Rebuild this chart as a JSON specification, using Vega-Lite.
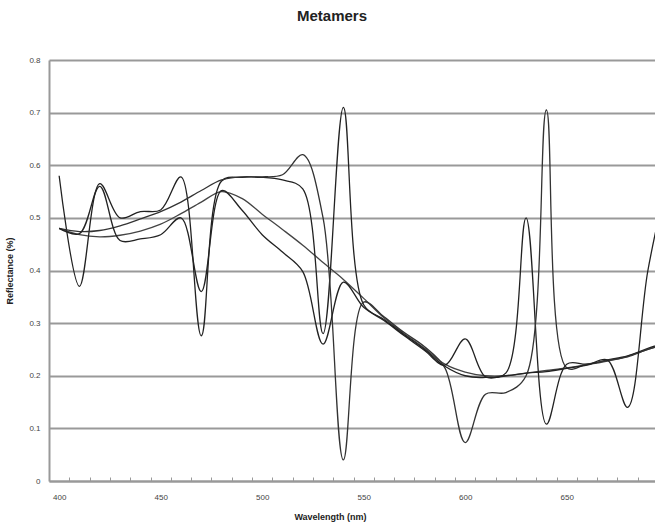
{
  "$schema": "https://vega.github.io/schema/vega-lite/v6.json",
  "width": 606,
  "height": 421,
  "autosize": {"type": "none"},
  "padding": {"left": 49, "top": 60, "right": 0, "bottom": 44},
  "background": "white",
  "title": {
    "text": "Metamers",
    "font": "Liberation Sans",
    "fontSize": 15,
    "fontWeight": "bold",
    "color": "#222",
    "anchor": "middle",
    "dx": -20,
    "offset": 32
  },
  "config": {"view": {"stroke": null}},
  "data": {
    "values": [
      {"wl": 400, "s": "ref", "r": 0.48}, {"wl": 410, "s": "ref", "r": 0.468}, {"wl": 420, "s": "ref", "r": 0.464},
      {"wl": 430, "s": "ref", "r": 0.467}, {"wl": 440, "s": "ref", "r": 0.475}, {"wl": 450, "s": "ref", "r": 0.488},
      {"wl": 460, "s": "ref", "r": 0.508}, {"wl": 470, "s": "ref", "r": 0.53}, {"wl": 480, "s": "ref", "r": 0.55},
      {"wl": 490, "s": "ref", "r": 0.537}, {"wl": 500, "s": "ref", "r": 0.507}, {"wl": 510, "s": "ref", "r": 0.478},
      {"wl": 520, "s": "ref", "r": 0.448}, {"wl": 530, "s": "ref", "r": 0.415}, {"wl": 540, "s": "ref", "r": 0.383},
      {"wl": 550, "s": "ref", "r": 0.347}, {"wl": 560, "s": "ref", "r": 0.31}, {"wl": 570, "s": "ref", "r": 0.28},
      {"wl": 580, "s": "ref", "r": 0.252}, {"wl": 590, "s": "ref", "r": 0.222}, {"wl": 600, "s": "ref", "r": 0.207},
      {"wl": 610, "s": "ref", "r": 0.2}, {"wl": 620, "s": "ref", "r": 0.2}, {"wl": 630, "s": "ref", "r": 0.205},
      {"wl": 640, "s": "ref", "r": 0.21}, {"wl": 650, "s": "ref", "r": 0.215}, {"wl": 660, "s": "ref", "r": 0.221},
      {"wl": 670, "s": "ref", "r": 0.228}, {"wl": 680, "s": "ref", "r": 0.237}, {"wl": 690, "s": "ref", "r": 0.25},
      {"wl": 700, "s": "ref", "r": 0.262},

      {"wl": 400, "s": "m1", "r": 0.58}, {"wl": 410, "s": "m1", "r": 0.37}, {"wl": 420, "s": "m1", "r": 0.565},
      {"wl": 430, "s": "m1", "r": 0.5}, {"wl": 440, "s": "m1", "r": 0.512}, {"wl": 450, "s": "m1", "r": 0.515},
      {"wl": 460, "s": "m1", "r": 0.578}, {"wl": 470, "s": "m1", "r": 0.276}, {"wl": 480, "s": "m1", "r": 0.57},
      {"wl": 490, "s": "m1", "r": 0.577}, {"wl": 500, "s": "m1", "r": 0.577}, {"wl": 510, "s": "m1", "r": 0.572},
      {"wl": 520, "s": "m1", "r": 0.555}, {"wl": 530, "s": "m1", "r": 0.28}, {"wl": 540, "s": "m1", "r": 0.71},
      {"wl": 550, "s": "m1", "r": 0.335}, {"wl": 560, "s": "m1", "r": 0.307}, {"wl": 570, "s": "m1", "r": 0.278},
      {"wl": 580, "s": "m1", "r": 0.25}, {"wl": 590, "s": "m1", "r": 0.218}, {"wl": 600, "s": "m1", "r": 0.2},
      {"wl": 610, "s": "m1", "r": 0.197}, {"wl": 620, "s": "m1", "r": 0.205}, {"wl": 630, "s": "m1", "r": 0.5},
      {"wl": 640, "s": "m1", "r": 0.108}, {"wl": 650, "s": "m1", "r": 0.222}, {"wl": 660, "s": "m1", "r": 0.222},
      {"wl": 670, "s": "m1", "r": 0.23}, {"wl": 680, "s": "m1", "r": 0.238}, {"wl": 690, "s": "m1", "r": 0.252},
      {"wl": 700, "s": "m1", "r": 0.265},

      {"wl": 400, "s": "m2", "r": 0.48}, {"wl": 410, "s": "m2", "r": 0.474}, {"wl": 420, "s": "m2", "r": 0.476},
      {"wl": 430, "s": "m2", "r": 0.485}, {"wl": 440, "s": "m2", "r": 0.498}, {"wl": 450, "s": "m2", "r": 0.512},
      {"wl": 460, "s": "m2", "r": 0.53}, {"wl": 470, "s": "m2", "r": 0.552}, {"wl": 480, "s": "m2", "r": 0.572},
      {"wl": 490, "s": "m2", "r": 0.578}, {"wl": 500, "s": "m2", "r": 0.578}, {"wl": 510, "s": "m2", "r": 0.582},
      {"wl": 520, "s": "m2", "r": 0.62}, {"wl": 530, "s": "m2", "r": 0.5}, {"wl": 540, "s": "m2", "r": 0.04},
      {"wl": 550, "s": "m2", "r": 0.34}, {"wl": 560, "s": "m2", "r": 0.312}, {"wl": 570, "s": "m2", "r": 0.282},
      {"wl": 580, "s": "m2", "r": 0.255}, {"wl": 590, "s": "m2", "r": 0.215}, {"wl": 600, "s": "m2", "r": 0.073},
      {"wl": 610, "s": "m2", "r": 0.165}, {"wl": 620, "s": "m2", "r": 0.168}, {"wl": 630, "s": "m2", "r": 0.2},
      {"wl": 640, "s": "m2", "r": 0.705}, {"wl": 650, "s": "m2", "r": 0.215}, {"wl": 660, "s": "m2", "r": 0.222},
      {"wl": 670, "s": "m2", "r": 0.229}, {"wl": 680, "s": "m2", "r": 0.236}, {"wl": 690, "s": "m2", "r": 0.25},
      {"wl": 700, "s": "m2", "r": 0.26},

      {"wl": 400, "s": "m3", "r": 0.48}, {"wl": 410, "s": "m3", "r": 0.47}, {"wl": 420, "s": "m3", "r": 0.56},
      {"wl": 430, "s": "m3", "r": 0.457}, {"wl": 440, "s": "m3", "r": 0.46}, {"wl": 450, "s": "m3", "r": 0.468},
      {"wl": 460, "s": "m3", "r": 0.5}, {"wl": 470, "s": "m3", "r": 0.36}, {"wl": 480, "s": "m3", "r": 0.552},
      {"wl": 490, "s": "m3", "r": 0.515}, {"wl": 500, "s": "m3", "r": 0.468}, {"wl": 510, "s": "m3", "r": 0.435},
      {"wl": 520, "s": "m3", "r": 0.398}, {"wl": 530, "s": "m3", "r": 0.26}, {"wl": 540, "s": "m3", "r": 0.378},
      {"wl": 550, "s": "m3", "r": 0.33}, {"wl": 560, "s": "m3", "r": 0.305}, {"wl": 570, "s": "m3", "r": 0.276},
      {"wl": 580, "s": "m3", "r": 0.248}, {"wl": 590, "s": "m3", "r": 0.22}, {"wl": 600, "s": "m3", "r": 0.27},
      {"wl": 610, "s": "m3", "r": 0.198}, {"wl": 620, "s": "m3", "r": 0.2}, {"wl": 630, "s": "m3", "r": 0.205},
      {"wl": 640, "s": "m3", "r": 0.208}, {"wl": 650, "s": "m3", "r": 0.214}, {"wl": 660, "s": "m3", "r": 0.22},
      {"wl": 670, "s": "m3", "r": 0.23}, {"wl": 680, "s": "m3", "r": 0.14}, {"wl": 690, "s": "m3", "r": 0.4},
      {"wl": 700, "s": "m3", "r": 0.58}
    ]
  },
  "mark": {"type": "line", "interpolate": "catmull-rom", "strokeWidth": 1.3, "clip": true},
  "encoding": {
    "x": {
      "field": "wl",
      "type": "quantitative",
      "scale": {"domain": [395, 693.5], "nice": false, "zero": false},
      "axis": {
        "values": [400, 405, 415, 425, 435, 445, 450, 455, 465, 475, 485, 495, 500, 505, 515, 525, 535, 545, 550, 555, 565, 575, 585, 595, 600, 605, 615, 625, 635, 645, 650, 655, 665, 675, 685],
        "labelExpr": "datum.value % 50 == 0 ? datum.label : ''",
        "labelOverlap": false,
        "title": "Wavelength (nm)",
        "grid": false,
        "ticks": true,
        "tickSize": -4,
        "tickWidth": 1,
        "tickColor": {"condition": {"test": "datum.value % 50 == 0", "value": "transparent"}, "value": "#999"},
        "domainColor": "#999",
        "domainWidth": 2,
        "labelFont": "Liberation Sans",
        "labelFontSize": 8,
        "labelColor": "#444",
        "labelPadding": 16,
        "titleFont": "Liberation Sans",
        "titleFontSize": 9,
        "titleFontWeight": "bold",
        "titleColor": "#222",
        "titlePadding": 11,
        "titleX": 281
      }
    },
    "y": {
      "field": "r",
      "type": "quantitative",
      "scale": {"domain": [0, 0.8], "nice": false},
      "axis": {
        "values": [0, 0.1, 0.2, 0.3, 0.4, 0.5, 0.6, 0.7, 0.8],
        "format": "~g",
        "title": "Reflectance (%)",
        "grid": true,
        "gridColor": "#999",
        "gridWidth": 2,
        "ticks": false,
        "domainColor": "#999",
        "domainWidth": 2,
        "labelFont": "Liberation Sans",
        "labelFontSize": 8,
        "labelColor": "#444",
        "labelPadding": 9,
        "titleFont": "Liberation Sans",
        "titleFontSize": 9,
        "titleFontWeight": "bold",
        "titleColor": "#222",
        "titlePadding": 14
      }
    },
    "color": {
      "field": "s",
      "type": "nominal",
      "scale": {"domain": ["ref", "m1", "m2", "m3"], "range": ["#444", "#222", "#333", "#222"]},
      "legend": null
    }
  }
}
